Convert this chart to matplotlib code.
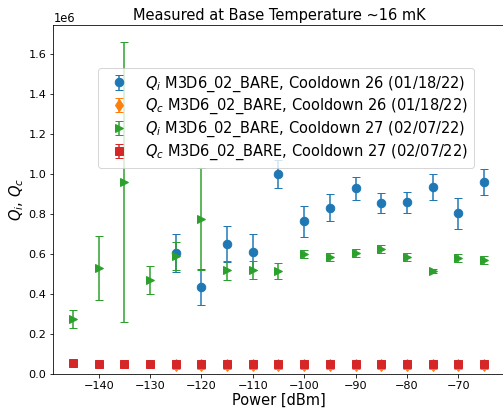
import matplotlib
matplotlib.use("Agg")
import matplotlib.pyplot as plt
import numpy as np

# Cooldown 26 (01/18/22)
p26 = [-125, -120, -115, -110, -105, -100, -95, -90, -85, -80, -75, -70, -65]
qi26 = [0.607, 0.437, 0.65, 0.61, 1.00, 0.765, 0.832, 0.93, 0.857, 0.86, 0.937, 0.805, 0.96]
qi26_err = [0.095, 0.09, 0.09, 0.09, 0.07, 0.078, 0.068, 0.058, 0.05, 0.052, 0.065, 0.077, 0.065]
qc26 = [0.048] * 13
qc26_err = [0.02] * 13

# Cooldown 27 (02/07/22)
p27 = [-145, -140, -135, -130, -125, -120, -115, -110, -105, -100, -95, -90, -85, -80, -75, -70, -65]
qi27 = [0.277, 0.53, 0.96, 0.473, 0.59, 0.778, 0.52, 0.52, 0.515, 0.602, 0.588, 0.607, 0.627, 0.585, 0.515, 0.583, 0.57]
qi27_err = [0.045, 0.16, 0.70, 0.07, 0.07, 0.255, 0.047, 0.045, 0.04, 0.02, 0.02, 0.02, 0.02, 0.02, 0.01, 0.02, 0.02]
qc27 = [0.058] + [0.052] * 16
qc27_err = [0.005] * 17

scale = 1e6
fig = plt.figure(figsize=(503 / 72, 408 / 72), dpi=72)
ax = fig.add_axes([53.3 / 503, (408 - 374.3) / 408, (504.5 - 53.3) / 503, (374.3 - 25) / 408])

kw = dict(capsize=4, markersize=8.5, linestyle='none')
ax.errorbar(p26, np.array(qi26) * scale, yerr=np.array(qi26_err) * scale, fmt='o', color='C0',
            label='$Q_i$ M3D6_02_BARE, Cooldown 26 (01/18/22)', **kw)
ax.errorbar(p26, np.array(qc26) * scale, yerr=np.array(qc26_err) * scale, fmt='d', color='C1',
            label='$Q_c$ M3D6_02_BARE, Cooldown 26 (01/18/22)', **kw)
ax.errorbar(p27, np.array(qi27) * scale, yerr=np.array(qi27_err) * scale, fmt='>', color='C2',
            label='$Q_i$ M3D6_02_BARE, Cooldown 27 (02/07/22)', **kw)
ax.errorbar(p27, np.array(qc27) * scale, yerr=np.array(qc27_err) * scale, fmt='s', color='C3',
            label='$Q_c$ M3D6_02_BARE, Cooldown 27 (02/07/22)', **kw)

big = 14.6
ax.set_xlim(-148.84, -61)
ax.set_ylim(0, 1.745e6)
ax.set_xticks([-140, -130, -120, -110, -100, -90, -80, -70])
ax.tick_params(labelsize=11.2)
ax.yaxis.get_offset_text().set_fontsize(11.5)
ax.set_xlabel('Power [dBm]', fontsize=big, labelpad=1)
ax.set_ylabel('$Q_i$, $Q_c$', fontsize=big, labelpad=2)
ax.set_title('Measured at Base Temperature ~16 mK', fontsize=big, pad=5)
ax.legend(loc='upper left', bbox_to_anchor=((98.3 - 53.3) / 451.2, (374.3 - 68.3) / 349.3),
          borderaxespad=0, fontsize=big, labelspacing=0.24)

fig.savefig('out.png', dpi=72)
